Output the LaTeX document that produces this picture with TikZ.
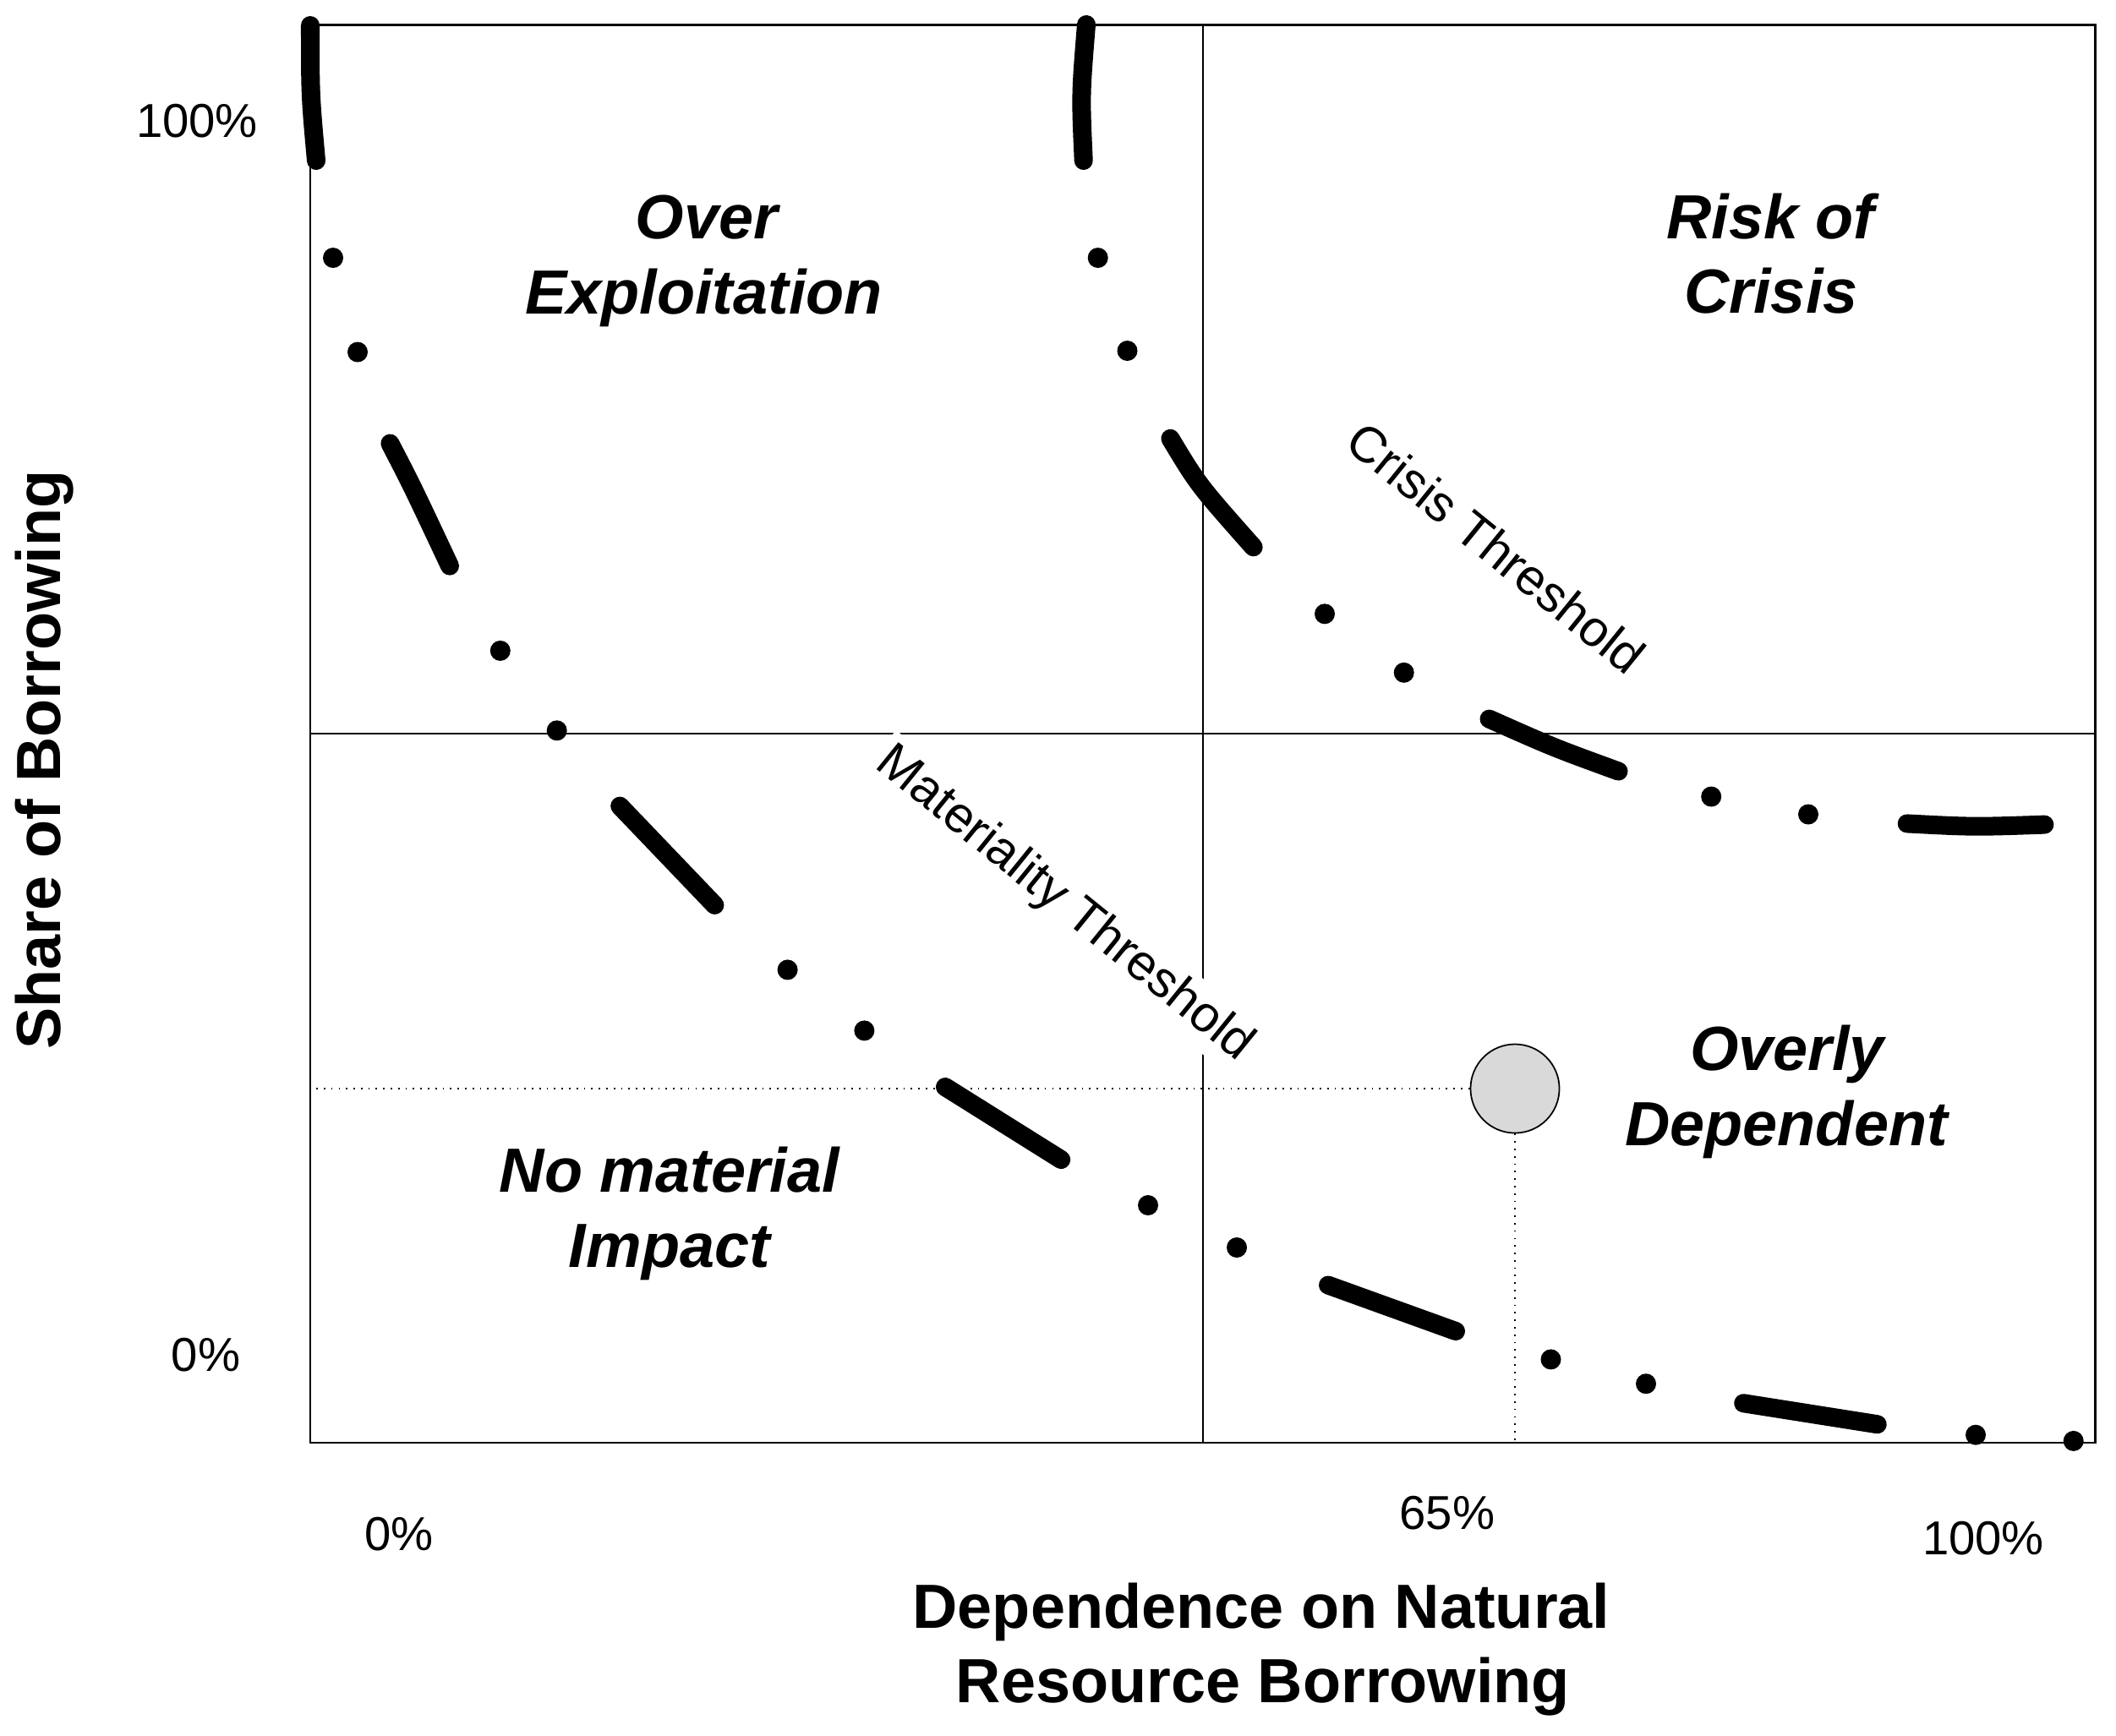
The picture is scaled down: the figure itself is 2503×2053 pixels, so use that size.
\documentclass[tikz,border=0pt]{standalone}
\usepackage{fontspec}
\setmainfont{Liberation Sans}
\definecolor{ptfill}{RGB}{217,217,217}
\tikzset{
  frameline/.style={line width=0.6pt},
  dotline/.style={dotted, line width=0.5pt},
  curvedash/.style={line width=0.22cm, line cap=round},
  curvedot/.style={fill=black},
  region/.style={font=\fontsize{21}{25}\selectfont\bfseries\itshape, anchor=base, inner sep=0pt},
  axistitle/.style={font=\fontsize{21}{25}\selectfont\bfseries, anchor=base, inner sep=0pt},
  ticklab/.style={font=\fontsize{16}{19}\selectfont, anchor=base, inner sep=0pt},
  threshlab/.style={font=\fontsize{17}{20}\selectfont, rotate=-39, fill=white, inner sep=2pt},
  pointmark/.style={circle, draw, line width=0.5pt, fill=ptfill, minimum size=1.05cm, inner sep=0pt}
}
\begin{document}
\begin{tikzpicture}[x=0.01cm, y=-0.01cm]
\useasboundingbox (0,0) rectangle (2503,2053);
% frame and quadrant dividers
\draw[frameline] (367,29.5) rectangle (2478.5,1707);
\draw[frameline] (1422.8,29.5) -- (1422.8,1707);
\draw[frameline] (367,868.4) -- (2478.5,868.4);
% marked point with dotted guides
\node[pointmark] (pt) at (1792,1288) {};
\coordinate (guideleft) at (367,1288);
\coordinate (guidebottom) at (1792,1707);
\draw[dotline] (pt.west) -- (guideleft);
\draw[dotline] (pt.south) -- (guidebottom);
% threshold labels
\node[threshlab] (crisislab) at (1770,648) {Crisis Threshold};
\node[threshlab] (matlab) at (1259,1070) {Materiality Threshold};
% region labels
\node[region] (r1a) at (836,282) {Over};
\node[region] (r1b) at (832.5,371) {Exploitation};
\node[region] (r2a) at (2094.5,282.5) {Risk of};
\node[region] (r2b) at (2095,370) {Crisis};
\node[region] (r3a) at (792,1410) {No material};
\node[region] (r3b) at (792,1499) {Impact};
\node[region] (r4a) at (2114,1266.4) {Overly};
\node[region] (r4b) at (2113,1355.7) {Dependent};
% tick labels
\node[ticklab] (y100) at (233,162) {100\%};
\node[ticklab] (y0) at (243.5,1622) {0\%};
\node[ticklab] (x0) at (472,1834) {0\%};
\node[ticklab] (x65) at (1712,1809) {65\%};
\node[ticklab] (x100) at (2346,1839) {100\%};
% axis titles
\node[axistitle, rotate=90] (ytitle) at (71.7,899) {Share of Borrowing};
\node[axistitle] (xtitle1) at (1492,1926) {Dependence on Natural};
\node[axistitle] (xtitle2) at (1494,2014) {Resource Borrowing};
% materiality threshold curve
\draw[curvedash] (367,30) .. controls (367,112) .. (374,190);
\fill[curvedot] (394,305) circle[radius=0.12cm];
\fill[curvedot] (423,416.5) circle[radius=0.12cm];
\draw[curvedash] (461.4,524.6) .. controls (487.2,574.3) .. (532,669.6);
\fill[curvedot] (591.8,769.9) circle[radius=0.12cm];
\fill[curvedot] (658.7,864.3) circle[radius=0.12cm];
\draw[curvedash] (733.2,953.6) -- (845.4,1070.9);
\fill[curvedot] (931.6,1147.4) circle[radius=0.12cm];
\fill[curvedot] (1022.4,1219.4) circle[radius=0.12cm];
\draw[curvedash] (1118,1286) -- (1255.2,1372);
\fill[curvedot] (1358,1426) circle[radius=0.12cm];
\fill[curvedot] (1463,1476) circle[radius=0.12cm];
\draw[curvedash] (1571,1520.5) -- (1722,1575);
\fill[curvedot] (1834.5,1608.4) circle[radius=0.12cm];
\fill[curvedot] (1947,1637.2) circle[radius=0.12cm];
\draw[curvedash] (2062.2,1660.2) -- (2220.7,1685.2);
\fill[curvedot] (2337,1697.7) circle[radius=0.12cm];
\fill[curvedot] (2452.7,1704.9) circle[radius=0.12cm];
% crisis threshold curve
\draw[curvedash] (1285,29) .. controls (1278.2,112.3) .. (1281.7,190);
\fill[curvedot] (1298.7,305) circle[radius=0.12cm];
\fill[curvedot] (1333.5,415) circle[radius=0.12cm];
\draw[curvedash] (1384.4,518.8) .. controls (1417.4,573.7) .. (1482.6,647.3);
\fill[curvedot] (1567,726.3) circle[radius=0.12cm];
\fill[curvedot] (1660.7,795.8) circle[radius=0.12cm];
\draw[curvedash] (1761.5,850.6) .. controls (1838,884.6) .. (1914.5,912.5);
\fill[curvedot] (2024.2,942.5) circle[radius=0.12cm];
\fill[curvedot] (2139,963.5) circle[radius=0.12cm];
\draw[curvedash] (2255.7,974.4) .. controls (2335,978.5) .. (2418.4,975.6);
\end{tikzpicture}
\end{document}
